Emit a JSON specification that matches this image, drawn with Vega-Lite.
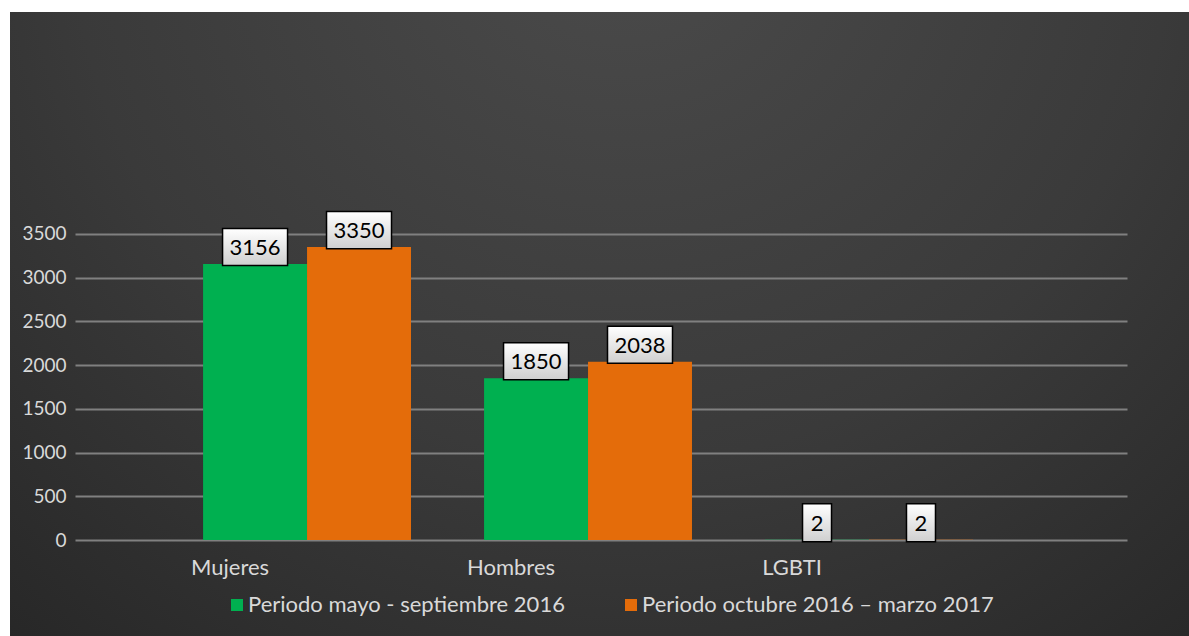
{
  "$schema": "https://vega.github.io/schema/vega-lite/v6.json",
  "width": 1179,
  "height": 624,
  "autosize": {"type": "none"},
  "padding": {"left": 10, "top": 12, "right": 0, "bottom": 0},
  "background": "#ffffff",
  "view": {
    "stroke": null,
    "fill": {
      "gradient": "radial",
      "x1": 0.52, "y1": 0.15, "r1": 0,
      "x2": 0.52, "y2": 0.15, "r2": 0.85,
      "stops": [
        {"offset": 0, "color": "#4b4b4b"},
        {"offset": 0.55, "color": "#3a3a3a"},
        {"offset": 1, "color": "#252525"}
      ]
    }
  },
  "config": {"font": "Lato"},
  "data": {
    "values": [
      {"categoria": "Mujeres", "periodo": "Periodo mayo - septiembre 2016", "valor": 3156},
      {"categoria": "Mujeres", "periodo": "Periodo octubre 2016 – marzo 2017", "valor": 3350},
      {"categoria": "Hombres", "periodo": "Periodo mayo - septiembre 2016", "valor": 1850},
      {"categoria": "Hombres", "periodo": "Periodo octubre 2016 – marzo 2017", "valor": 2038},
      {"categoria": "LGBTI", "periodo": "Periodo mayo - septiembre 2016", "valor": 2},
      {"categoria": "LGBTI", "periodo": "Periodo octubre 2016 – marzo 2017", "valor": 2}
    ]
  },
  "encoding": {
    "x": {
      "field": "categoria",
      "type": "nominal",
      "sort": ["Mujeres", "Hombres", "LGBTI"],
      "scale": {"range": [65, 1117], "paddingInner": 0.26, "paddingOuter": 0.502, "align": 0.454},
      "axis": {
        "title": null,
        "offset": -96,
        "labelAngle": 0,
        "labelColor": "#d9d9d9",
        "labelFontSize": 22,
        "labelPadding": 17,
        "labelOffset": -77,
        "ticks": false,
        "domain": false,
        "grid": false
      }
    },
    "xOffset": {
      "field": "periodo",
      "type": "nominal",
      "sort": ["Periodo mayo - septiembre 2016", "Periodo octubre 2016 – marzo 2017"],
      "scale": {"paddingInner": 0, "paddingOuter": 0}
    },
    "y": {
      "field": "valor",
      "type": "quantitative",
      "scale": {"domain": [-1098, 6039], "nice": false, "zero": false},
      "axis": {
        "title": null,
        "offset": -65,
        "values": [0, 500, 1000, 1500, 2000, 2500, 3000, 3500],
        "format": "d",
        "labelColor": "#d9d9d9",
        "labelFontSize": 19,
        "labelPadding": 9,
        "ticks": false,
        "domain": false,
        "gridColor": "#808080",
        "gridWidth": 1.8
      }
    }
  },
  "layer": [
    {
      "mark": {"type": "bar"},
      "encoding": {
        "y2": {"datum": 0},
        "color": {
          "field": "periodo",
          "type": "nominal",
          "sort": ["Periodo mayo - septiembre 2016", "Periodo octubre 2016 – marzo 2017"],
          "scale": {
            "domain": ["Periodo mayo - septiembre 2016", "Periodo octubre 2016 – marzo 2017"],
            "range": ["#00b050", "#e46c0a"]
          },
          "legend": {
            "orient": "none",
            "legendX": 216,
            "legendY": 582,
            "direction": "horizontal",
            "title": null,
            "labelColor": "#d9d9d9",
            "labelFontSize": 22,
            "symbolType": "square",
            "symbolSize": 144,
            "symbolStrokeWidth": 0,
            "symbolOpacity": 1,
            "columnPadding": 55,
            "labelOffset": 0,
            "labelLimit": 0
          }
        }
      }
    },
    {
      "mark": {
        "type": "point",
        "filled": true,
        "opacity": 1,
        "fill": {
          "gradient": "linear",
          "x1": 0, "y1": 0, "x2": 0, "y2": 1,
          "stops": [{"offset": 0, "color": "#ffffff"}, {"offset": 1, "color": "#cfcfcf"}]
        },
        "stroke": "#000000",
        "strokeWidth": 1.5,
        "yOffset": -17
      },
      "encoding": {
        "shape": {
          "condition": {"test": "datum.valor < 10", "value": "M-1,-1.31L1,-1.31L1,1.31L-1,1.31Z"},
          "value": "M-1,-0.57L1,-0.57L1,0.57L-1,0.57Z"
        },
        "size": {
          "condition": {"test": "datum.valor < 10", "value": 841},
          "value": 4225
        }
      }
    },
    {
      "mark": {"type": "text", "color": "#000000", "fontSize": 22, "yOffset": -16},
      "encoding": {
        "text": {"field": "valor", "type": "quantitative", "format": "d"}
      }
    }
  ]
}
